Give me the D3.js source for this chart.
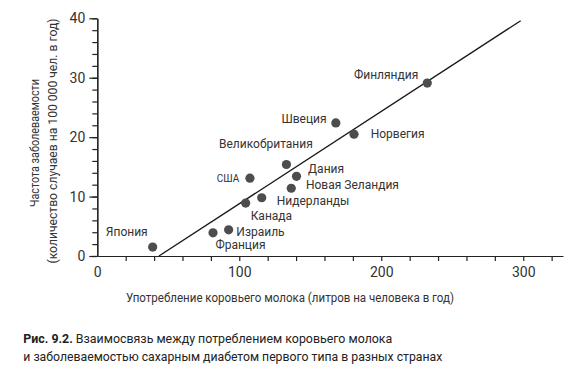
<!DOCTYPE html>
<html>
<head>
<meta charset="utf-8">
<script src="https://cdn.jsdelivr.net/npm/d3@7"></script>
<style>
  body { margin: 0; background: #fff; }
  svg { display: block; font-family: Roboto, "Liberation Sans", sans-serif; }
</style>
</head>
<body>
<div id="chart"></div>
<script>
// Data
const countries = [ "Япония", "Франция", "Израиль", "Канада", "Нидерланды", "США",
  "Новая Зеландия", "Великобритания", "Дания", "Швеция", "Норвегия", "Финляндия" ];
const milk = [ 39, 81.5, 92.5, 104.5, 115.8, 107.5, 136.6, 133.2, 140.3, 168, 180.8, 232.4 ];
const incidence = [ 1.5, 3.9, 4.4, 8.9, 9.8, 13.1, 11.4, 15.4, 13.4, 22.4, 20.5, 29.1 ];

// regression line end points
const fitX = [ 43.4, 298.2 ];
const fitY = [ 0, 39.6 ];

const xTicks = [ 0, 100, 200, 300 ];
const yTicks = [ 0, 10, 20, 30, 40 ];

// label placement relative to each dot: [anchor, dx, dy]
const labelPos = {
  "Япония": [ "end", -5, -15.6 ],
  "Франция": [ "start", 2.4, 12.4 ],
  "Израиль": [ "start", 7.7, 2.3 ],
  "Канада": [ "start", 5, 13 ],
  "Нидерланды": [ "start", 15, 3 ],
  "США": [ "end", -10.7, 0.7 ],
  "Новая Зеландия": [ "start", 14.7, -3 ],
  "Великобритания": [ "start", -67.4, -21 ],
  "Дания": [ "start", 11.6, -8 ],
  "Швеция": [ "end", -9.3, -4 ],
  "Норвегия": [ "start", 16.7, -0.3 ],
  "Финляндия": [ "end", -9, -8.3 ]
};

const width = 586, height = 374;

const svg = d3.select( "#chart" )
  .append( "svg" )
  .attr( "width", width )
  .attr( "height", height );

const x = d3.scaleLinear().domain( [ 0, 328 ] ).range( [ 97.3, 563 ] );
const y = d3.scaleLinear().domain( [ 0, 40 ] ).range( [ 256, 18.3 ] );

// y axis: major ticks with labels, minor ticks every 2
const yMinor = svg.append( "g" )
  .attr( "transform", `translate(${ x( 0 ) },0)` )
  .call( d3.axisLeft( y ).tickValues( d3.range( 0, 41, 2 ) ).tickSize( 5 ).tickSizeOuter( 0 ).tickFormat( "" ) );

const yAxis = svg.append( "g" )
  .attr( "transform", `translate(${ x( 0 ) },0)` )
  .call( d3.axisLeft( y ).tickValues( yTicks ).tickSize( 8 ).tickSizeOuter( 0 ).tickPadding( 4 ) );

const xAxis = svg.append( "g" )
  .attr( "transform", `translate(0,${ y( 0 ) })` )
  .call( d3.axisBottom( x ).tickValues( d3.range( 20, 321, 20 ) ).tickSize( 5 ).tickSizeOuter( 0 ).tickFormat( "" ) );

const xLabels = svg.append( "g" )
  .attr( "transform", `translate(0,${ y( 0 ) })` )
  .call( d3.axisBottom( x ).tickValues( xTicks ).tickSize( 0 ).tickPadding( 11 ) );
xLabels.select( ".domain" ).remove();

svg.selectAll( ".domain, .tick line" ).attr( "stroke", "#222" ).attr( "stroke-width", 1.2 );
svg.selectAll( ".tick text" )
  .attr( "fill", "#333" )
  .attr( "font-size", 14 )
  .attr( "font-family", "Roboto, sans-serif" );

// fit line
svg.append( "line" )
  .attr( "x1", x( fitX[ 0 ] ) ).attr( "y1", y( fitY[ 0 ] ) )
  .attr( "x2", x( fitX[ 1 ] ) ).attr( "y2", y( fitY[ 1 ] ) )
  .attr( "stroke", "#1a1a1a" )
  .attr( "stroke-width", 1.3 );

const pts = countries.map( ( c, i ) => ( { name: c, milk: milk[ i ], inc: incidence[ i ] } ) );

svg.selectAll( "circle.dot" )
  .data( pts )
  .enter()
  .append( "circle" )
  .attr( "class", "dot" )
  .attr( "cx", d => x( d.milk ) )
  .attr( "cy", d => y( d.inc ) )
  .attr( "r", 4.6 )
  .attr( "fill", "#4d4d4d" );

svg.selectAll( "text.lbl" )
  .data( pts )
  .enter()
  .append( "text" )
  .attr( "class", "lbl" )
  .attr( "x", d => x( d.milk ) + labelPos[ d.name ][ 1 ] )
  .attr( "y", d => y( d.inc ) + labelPos[ d.name ][ 2 ] )
  .attr( "dy", "0.35em" )
  .attr( "text-anchor", d => labelPos[ d.name ][ 0 ] )
  .attr( "font-size", d => d.name === "США" ? 10 : 12 )
  .attr( "fill", "#333" )
  .text( d => d.name );

// axis titles
svg.append( "text" )
  .attr( "x", 290 ).attr( "y", 298 )
  .attr( "dy", "0.35em" )
  .attr( "text-anchor", "middle" )
  .attr( "font-size", 12.5 )
  .attr( "fill", "#333" )
  .attr( "textLength", 328 )
  .attr( "lengthAdjust", "spacingAndGlyphs" )
  .text( "Употребление коровьего молока (литров на человека в год)" );

const yTitle = svg.append( "g" ).attr( "transform", "translate(35,143) rotate(-90)" );
yTitle.append( "text" )
  .attr( "text-anchor", "middle" )
  .attr( "dy", "0.35em" )
  .attr( "font-size", 12.5 )
  .attr( "fill", "#333" )
  .attr( "textLength", 128 )
  .attr( "lengthAdjust", "spacingAndGlyphs" )
  .text( "Частота заболеваемости" );
yTitle.append( "text" )
  .attr( "y", 18 )
  .attr( "x", 2 )
  .attr( "text-anchor", "middle" )
  .attr( "dy", "0.35em" )
  .attr( "font-size", 12.5 )
  .attr( "fill", "#333" )
  .attr( "textLength", 245 )
  .attr( "lengthAdjust", "spacingAndGlyphs" )
  .text( "(количество случаев на 100 000 чел. в год)" );

// caption
const cap1 = svg.append( "text" )
  .attr( "x", 23.3 ).attr( "y", 338.5 )
  .attr( "dy", "0.35em" )
  .attr( "font-size", 13 )
  .attr( "fill", "#222" )
  .attr( "textLength", 369 )
  .attr( "lengthAdjust", "spacingAndGlyphs" );
cap1.append( "tspan" ).attr( "font-weight", "bold" ).text( "Рис. 9.2." );
cap1.append( "tspan" ).text( " Взаимосвязь между потреблением коровьего молока" );

svg.append( "text" )
  .attr( "x", 23.3 ).attr( "y", 356 )
  .attr( "dy", "0.35em" )
  .attr( "font-size", 13 )
  .attr( "fill", "#222" )
  .attr( "textLength", 419 )
  .attr( "lengthAdjust", "spacingAndGlyphs" )
  .text( "и заболеваемостью сахарным диабетом первого типа в разных странах" );
</script>
</body>
</html>
